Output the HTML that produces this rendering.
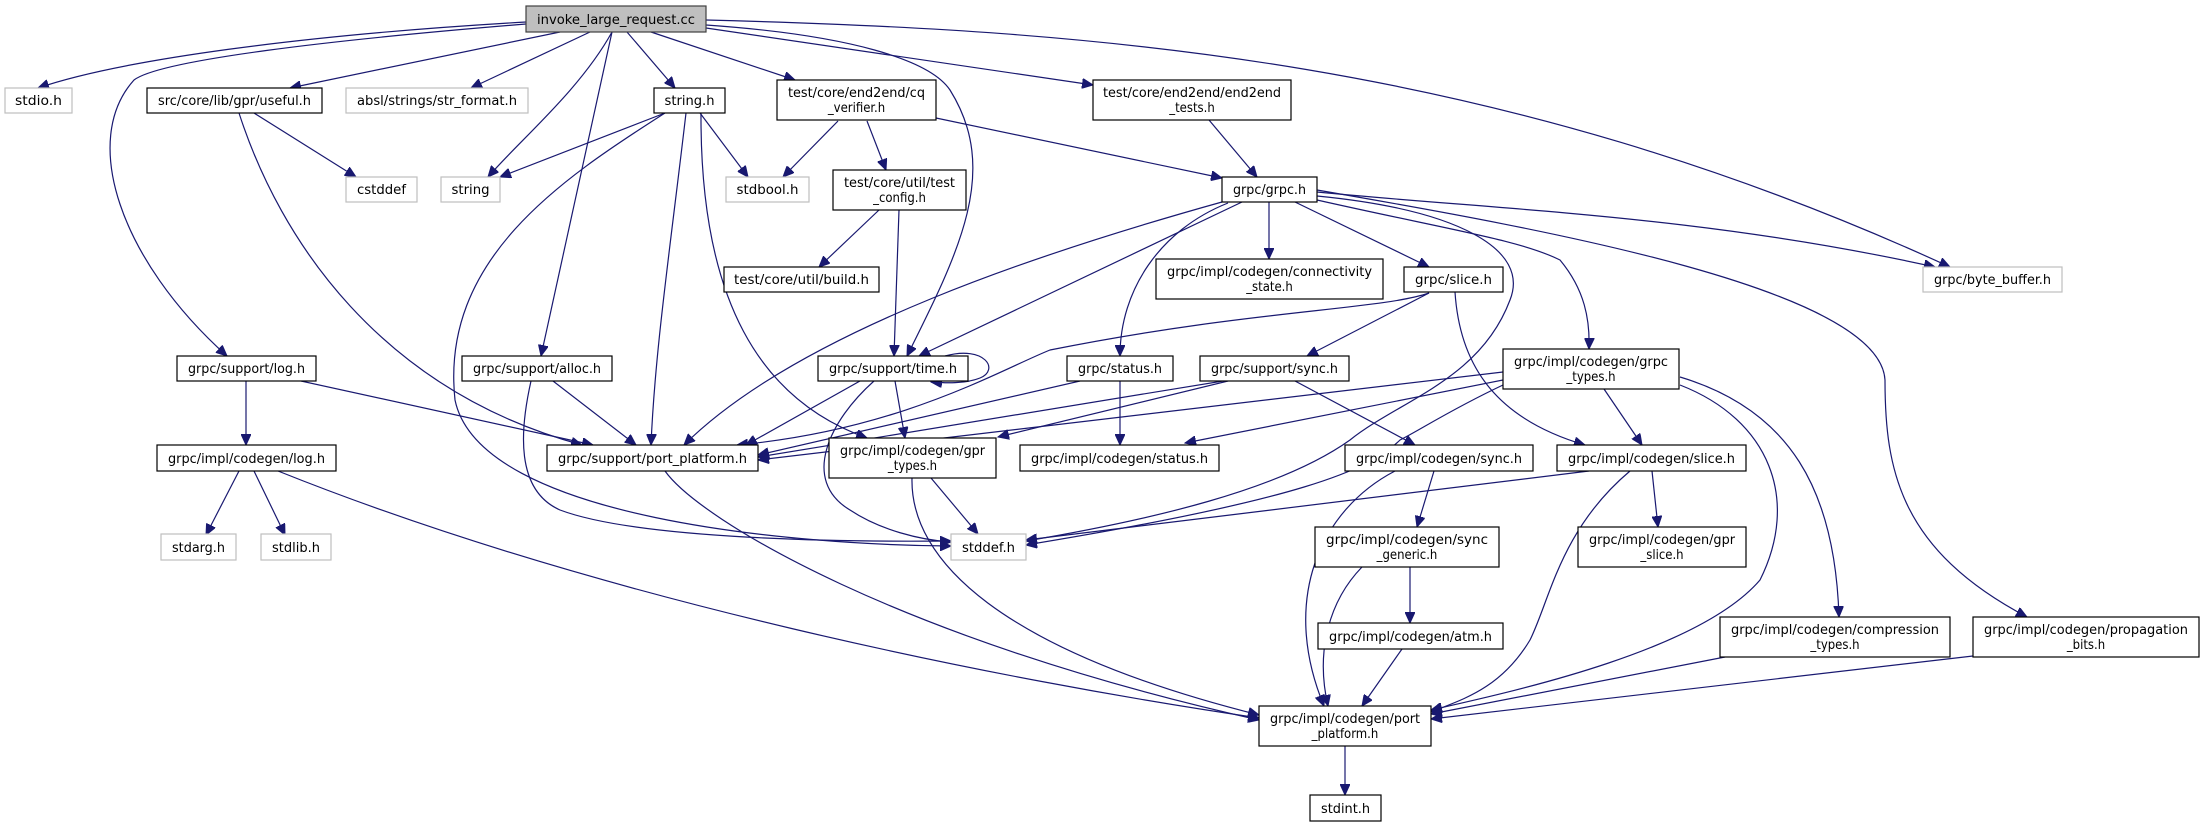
<!DOCTYPE html>
<html><head><meta charset="utf-8"><style>
html,body{margin:0;padding:0;background:#fff;}
svg{display:block;}
text{font-family:"DejaVu Sans Condensed","DejaVu Sans","Liberation Sans",sans-serif;font-size:13px;fill:#000;}
.n{fill:#fff;stroke:#000;stroke-width:1.2;}
.g{fill:#fff;stroke:#bfbfbf;stroke-width:1.2;}
.e{fill:none;stroke:#191970;stroke-width:1.2;}
</style></head><body>
<svg width="2201" height="827" viewBox="0 0 2201 827" xmlns="http://www.w3.org/2000/svg">
<defs><marker id="a" markerUnits="userSpaceOnUse" markerWidth="12" markerHeight="10" refX="11" refY="5" orient="auto"><path d="M0,0 L11,5 L0,10 Z" fill="#191970" stroke="#191970"/></marker></defs>
<g class="e" marker-end="url(#a)">
<!-- from invoke -->
<path d="M526,22 C300,35 120,60 38,88"/>
<path d="M560,32 L290,88"/>
<path d="M590,32 L471,88"/>
<path d="M612,32 C580,90 520,140 488,177"/>
<path d="M627,32 L675,88"/>
<path d="M526,24 C330,40 160,60 134,80 C80,140 120,260 227,356"/>
<path d="M612,32 L541,356"/>
<path d="M651,32 L795,80"/>
<path d="M706,25 C850,35 930,60 950,90 C1000,170 960,250 907,356"/>
<path d="M706,28 L1093,85"/>
<path d="M706,20 C1100,30 1500,60 1950,267"/>
<!-- useful -->
<path d="M254,113 L356,177"/>
<path d="M239,113 C280,240 380,390 582,445"/>
<!-- string.h -->
<path d="M665,113 L500,177"/>
<path d="M700,113 L748,177"/>
<path d="M665,113 C560,180 440,260 455,400 C480,520 800,545 951,546"/>
<path d="M686,113 C670,250 655,350 651,445"/>
<path d="M701,113 C700,300 760,400 867,438"/>
<!-- log.h / alloc.h -->
<path d="M246,381 L246,445"/>
<path d="M301,381 L593,445"/>
<path d="M553,381 L636,445"/>
<path d="M531,381 C520,430 515,490 560,510 C640,540 850,542 951,541"/>
<!-- codegen/log.h -->
<path d="M239,471 L206,535"/>
<path d="M254,471 L285,535"/>
<path d="M278,471 C600,600 1000,680 1259,718"/>
<path d="M665,471 C700,520 900,640 1259,720"/>
<!-- cq_verifier -->
<path d="M838,121 L783,177"/>
<path d="M867,121 L886,170"/>
<path d="M936,118 L1222,178"/>
<!-- test_config -->
<path d="M879,210 L819,267"/>
<path d="M899,210 L894,356"/>
<!-- end2end -->
<path d="M1209,120 L1257,177"/>
<!-- grpc.h -->
<path d="M1222,202 C1050,250 800,330 684,445"/>
<path d="M1242,202 L919,356"/>
<path d="M1228,203 C1160,230 1120,290 1120,356"/>
<path d="M1269,202 L1269,259"/>
<path d="M1295,202 L1429,267"/>
<path d="M1317,200 C1450,230 1520,240 1560,260 C1585,290 1590,320 1589,349"/>
<path d="M1317,192 C1500,210 1700,215 1935,267"/>
<path d="M1317,196 C1460,210 1530,250 1510,300 C1480,380 1400,400 1350,440 C1280,490 1150,520 1026,541"/>
<path d="M1317,190 C1550,230 1880,290 1885,380 C1885,470 1900,550 2027,617"/>
<!-- slice.h -->
<path d="M1429,293 C1380,310 1250,310 1050,350 C1000,370 900,430 737,445"/>
<path d="M1429,293 L1307,356"/>
<path d="M1455,292 C1460,370 1500,420 1585,445"/>
<!-- time.h -->
<path d="M945,356 C985,345 1000,370 980,378 C965,384 945,383 931,382"/>
<path d="M860,381 L746,445"/>
<path d="M895,381 L905,438"/>
<path d="M874,381 C830,420 800,480 850,510 C880,530 920,540 951,542"/>
<!-- status.h -->
<path d="M1120,381 L1120,445"/>
<path d="M1080,381 L758,455"/>
<!-- sync.h -->
<path d="M1223,381 L758,457"/>
<path d="M1228,381 L998,437"/>
<path d="M1295,381 L1415,445"/>
<!-- grpc_types -->
<path d="M1503,372 L758,460"/>
<path d="M1503,380 L1185,443"/>
<path d="M1503,385 C1450,410 1420,430 1400,440 C1370,470 1300,500 1026,545"/>
<path d="M1604,389 L1642,445"/>
<path d="M1680,377 C1790,410 1835,490 1839,617"/>
<path d="M1680,385 C1770,420 1800,500 1760,580 C1700,650 1520,690 1431,710"/>
<!-- codegen/sync.h -->
<path d="M1395,471 C1320,510 1280,600 1324,706"/>
<path d="M1434,471 L1417,527"/>
<!-- codegen/slice.h -->
<path d="M1589,471 L1026,540"/>
<path d="M1630,471 C1560,530 1550,600 1530,640 C1500,690 1460,700 1431,712"/>
<path d="M1652,471 L1658,527"/>
<!-- sync_generic / atm -->
<path d="M1362,567 C1330,600 1315,650 1328,706"/>
<path d="M1410,567 L1410,623"/>
<path d="M1402,649 L1362,706"/>
<!-- gpr_types -->
<path d="M931,478 L978,534"/>
<path d="M912,478 C910,560 1000,650 1259,715"/>
<!-- bottom -->
<path d="M1725,657 L1431,714"/>
<path d="M1973,656 L1431,719"/>
<path d="M1345,746 L1345,795"/>
</g>
<!-- nodes -->
<rect x="526" y="6" width="180" height="26" fill="#bfbfbf" stroke="#404040" stroke-width="1.2"/><text x="616" y="24" text-anchor="middle" textLength="158" lengthAdjust="spacingAndGlyphs">invoke_large_request.cc</text>
<rect class="g" x="5" y="88" width="67" height="25"/><text x="38.5" y="105" text-anchor="middle" textLength="47" lengthAdjust="spacingAndGlyphs">stdio.h</text>
<rect class="n" x="147" y="88" width="175" height="25"/><text x="234.5" y="105" text-anchor="middle" textLength="153" lengthAdjust="spacingAndGlyphs">src/core/lib/gpr/useful.h</text>
<rect class="g" x="346" y="88" width="182" height="25"/><text x="437" y="105" text-anchor="middle" textLength="160" lengthAdjust="spacingAndGlyphs">absl/strings/str_format.h</text>
<rect class="n" x="654" y="88" width="71" height="25"/><text x="689.5" y="105" text-anchor="middle" textLength="50" lengthAdjust="spacingAndGlyphs">string.h</text>
<rect class="n" x="777" y="80" width="159" height="40"/><text x="856.5" y="97" text-anchor="middle" textLength="137" lengthAdjust="spacingAndGlyphs">test/core/end2end/cq</text><text x="856.5" y="112" text-anchor="middle">_verifier.h</text>
<rect class="n" x="1093" y="80" width="198" height="40"/><text x="1192" y="97" text-anchor="middle" textLength="178" lengthAdjust="spacingAndGlyphs">test/core/end2end/end2end</text><text x="1192" y="112" text-anchor="middle">_tests.h</text>
<rect class="g" x="346" y="177" width="71" height="25"/><text x="381.5" y="194" text-anchor="middle" textLength="49" lengthAdjust="spacingAndGlyphs">cstddef</text>
<rect class="g" x="441" y="177" width="59" height="25"/><text x="470.5" y="194" text-anchor="middle" textLength="38" lengthAdjust="spacingAndGlyphs">string</text>
<rect class="g" x="726" y="177" width="83" height="25"/><text x="767.5" y="194" text-anchor="middle" textLength="62" lengthAdjust="spacingAndGlyphs">stdbool.h</text>
<rect class="n" x="833" y="170" width="133" height="40"/><text x="899.5" y="187" text-anchor="middle" textLength="111" lengthAdjust="spacingAndGlyphs">test/core/util/test</text><text x="899.5" y="202" text-anchor="middle">_config.h</text>
<rect class="n" x="1222" y="177" width="95" height="25"/><text x="1269.5" y="194" text-anchor="middle" textLength="73" lengthAdjust="spacingAndGlyphs">grpc/grpc.h</text>
<rect class="g" x="1923" y="267" width="139" height="25"/><text x="1992.5" y="284" text-anchor="middle" textLength="117" lengthAdjust="spacingAndGlyphs">grpc/byte_buffer.h</text>
<rect class="n" x="724" y="267" width="155" height="25"/><text x="801.5" y="284" text-anchor="middle" textLength="135" lengthAdjust="spacingAndGlyphs">test/core/util/build.h</text>
<rect class="n" x="1156" y="259" width="227" height="40"/><text x="1269.5" y="276" text-anchor="middle" textLength="205" lengthAdjust="spacingAndGlyphs">grpc/impl/codegen/connectivity</text><text x="1269.5" y="291" text-anchor="middle">_state.h</text>
<rect class="n" x="1404" y="267" width="99" height="25"/><text x="1453.5" y="284" text-anchor="middle" textLength="77" lengthAdjust="spacingAndGlyphs">grpc/slice.h</text>
<rect class="n" x="1503" y="349" width="176" height="40"/><text x="1591" y="366" text-anchor="middle" textLength="154" lengthAdjust="spacingAndGlyphs">grpc/impl/codegen/grpc</text><text x="1591" y="381" text-anchor="middle">_types.h</text>
<rect class="n" x="177" y="356" width="139" height="25"/><text x="246.5" y="373" text-anchor="middle" textLength="117" lengthAdjust="spacingAndGlyphs">grpc/support/log.h</text>
<rect class="n" x="462" y="356" width="150" height="25"/><text x="537" y="373" text-anchor="middle" textLength="128" lengthAdjust="spacingAndGlyphs">grpc/support/alloc.h</text>
<rect class="n" x="818" y="356" width="150" height="25"/><text x="893" y="373" text-anchor="middle" textLength="128" lengthAdjust="spacingAndGlyphs">grpc/support/time.h</text>
<rect class="n" x="1067" y="356" width="106" height="25"/><text x="1120" y="373" text-anchor="middle" textLength="84" lengthAdjust="spacingAndGlyphs">grpc/status.h</text>
<rect class="n" x="1200" y="356" width="149" height="25"/><text x="1274.5" y="373" text-anchor="middle" textLength="127" lengthAdjust="spacingAndGlyphs">grpc/support/sync.h</text>
<rect class="n" x="157" y="445" width="179" height="26"/><text x="246.5" y="463" text-anchor="middle" textLength="157" lengthAdjust="spacingAndGlyphs">grpc/impl/codegen/log.h</text>
<rect class="n" x="547" y="445" width="211" height="26"/><text x="652.5" y="463" text-anchor="middle" textLength="189" lengthAdjust="spacingAndGlyphs">grpc/support/port_platform.h</text>
<rect class="n" x="829" y="438" width="167" height="40"/><text x="912.5" y="455" text-anchor="middle" textLength="145" lengthAdjust="spacingAndGlyphs">grpc/impl/codegen/gpr</text><text x="912.5" y="470" text-anchor="middle">_types.h</text>
<rect class="n" x="1020" y="445" width="199" height="26"/><text x="1119.5" y="463" text-anchor="middle" textLength="177" lengthAdjust="spacingAndGlyphs">grpc/impl/codegen/status.h</text>
<rect class="n" x="1345" y="445" width="188" height="26"/><text x="1439" y="463" text-anchor="middle" textLength="166" lengthAdjust="spacingAndGlyphs">grpc/impl/codegen/sync.h</text>
<rect class="n" x="1557" y="445" width="189" height="26"/><text x="1651.5" y="463" text-anchor="middle" textLength="167" lengthAdjust="spacingAndGlyphs">grpc/impl/codegen/slice.h</text>
<rect class="g" x="161" y="534" width="75" height="26"/><text x="198.5" y="552" text-anchor="middle" textLength="53" lengthAdjust="spacingAndGlyphs">stdarg.h</text>
<rect class="g" x="261" y="534" width="70" height="26"/><text x="296" y="552" text-anchor="middle" textLength="48" lengthAdjust="spacingAndGlyphs">stdlib.h</text>
<rect class="g" x="951" y="534" width="75" height="26"/><text x="988.5" y="552" text-anchor="middle" textLength="53" lengthAdjust="spacingAndGlyphs">stddef.h</text>
<rect class="n" x="1315" y="527" width="184" height="40"/><text x="1407" y="544" text-anchor="middle" textLength="162" lengthAdjust="spacingAndGlyphs">grpc/impl/codegen/sync</text><text x="1407" y="559" text-anchor="middle">_generic.h</text>
<rect class="n" x="1578" y="527" width="168" height="40"/><text x="1662" y="544" text-anchor="middle" textLength="146" lengthAdjust="spacingAndGlyphs">grpc/impl/codegen/gpr</text><text x="1662" y="559" text-anchor="middle">_slice.h</text>
<rect class="n" x="1318" y="623" width="185" height="26"/><text x="1410.5" y="641" text-anchor="middle" textLength="163" lengthAdjust="spacingAndGlyphs">grpc/impl/codegen/atm.h</text>
<rect class="n" x="1720" y="617" width="230" height="40"/><text x="1835" y="634" text-anchor="middle" textLength="208" lengthAdjust="spacingAndGlyphs">grpc/impl/codegen/compression</text><text x="1835" y="649" text-anchor="middle">_types.h</text>
<rect class="n" x="1973" y="617" width="226" height="40"/><text x="2086" y="634" text-anchor="middle" textLength="204" lengthAdjust="spacingAndGlyphs">grpc/impl/codegen/propagation</text><text x="2086" y="649" text-anchor="middle">_bits.h</text>
<rect class="n" x="1259" y="706" width="172" height="40"/><text x="1345" y="723" text-anchor="middle" textLength="150" lengthAdjust="spacingAndGlyphs">grpc/impl/codegen/port</text><text x="1345" y="738" text-anchor="middle">_platform.h</text>
<rect class="n" x="1310" y="795" width="71" height="26"/><text x="1345.5" y="813" text-anchor="middle" textLength="49" lengthAdjust="spacingAndGlyphs">stdint.h</text>
</svg>
</body></html>
